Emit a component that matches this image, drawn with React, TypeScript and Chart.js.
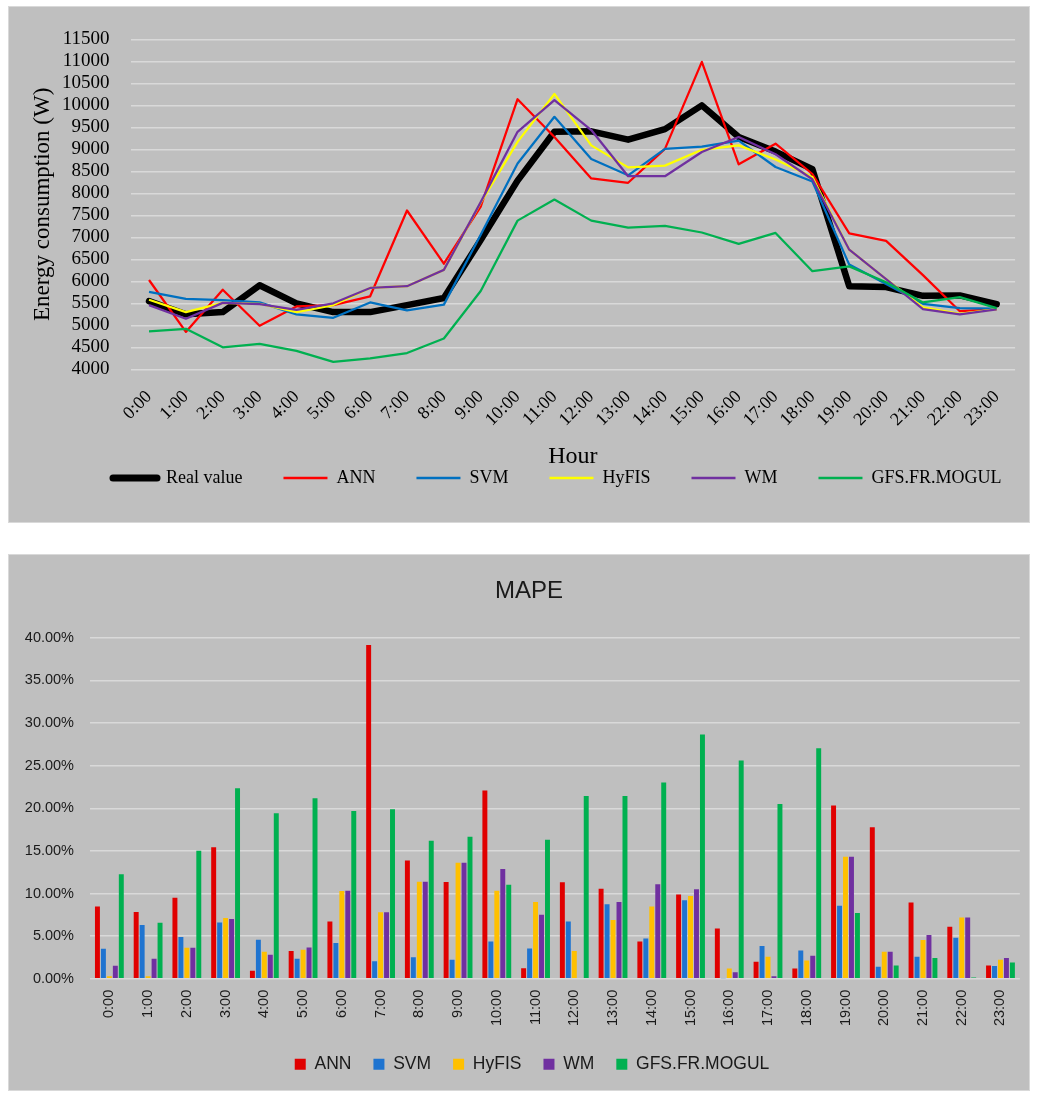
import React, { useEffect, useRef } from 'react';
import { Chart, registerables } from 'chart.js';

Chart.register(...registerables);

const hours = ['0:00', '1:00', '2:00', '3:00', '4:00', '5:00', '6:00', '7:00', '8:00', '9:00', '10:00', '11:00',
  '12:00', '13:00', '14:00', '15:00', '16:00', '17:00', '18:00', '19:00', '20:00', '21:00', '22:00', '23:00'];

// Energy consumption (W)
const realValue = [5550, 5250, 5300, 5910, 5500, 5300, 5300, 5460, 5620, 6940, 8290, 9400, 9410, 9220, 9460, 10000, 9280, 8950, 8550, 5890, 5870, 5670, 5680, 5480];
const annLine = [6030, 4850, 5810, 4990, 5430, 5460, 5660, 7610, 6400, 7700, 10140, 9280, 8340, 8240, 9010, 10990, 8660, 9130, 8440, 7090, 6920, 6140, 5320, 5370];
const svmLine = [5760, 5600, 5570, 5520, 5250, 5170, 5520, 5340, 5470, 7060, 8680, 9740, 8780, 8410, 9010, 9060, 9200, 8600, 8270, 6380, 5940, 5490, 5390, 5380];
const hyfisLine = [5580, 5300, 5510, 5490, 5300, 5460, 5850, 5890, 6260, 7790, 9170, 10260, 9090, 8590, 8630, 8990, 9090, 8770, 8370, 6720, 6050, 5410, 5260, 5370];
const wmLine = [5460, 5150, 5510, 5480, 5350, 5500, 5850, 5890, 6260, 7800, 9400, 10120, 9440, 8390, 8390, 8940, 9280, 8890, 8320, 6720, 6050, 5370, 5250, 5360];
const gfsLine = [4860, 4920, 4500, 4580, 4420, 4170, 4250, 4370, 4700, 5780, 7380, 7860, 7380, 7220, 7260, 7110, 6850, 7100, 6230, 6340, 5980, 5520, 5640, 5390];

// MAPE (%)
const mapeAnn = [8.49, 7.83, 9.51, 15.42, 0.94, 3.25, 6.73, 39.14, 13.86, 11.35, 22.07, 1.25, 11.31, 10.57, 4.38, 9.90, 5.91, 2.0, 1.21, 20.31, 17.77, 8.96, 6.11, 1.57];
const mapeSvm = [3.52, 6.30, 4.89, 6.61, 4.58, 2.35, 4.19, 2.07, 2.54, 2.23, 4.38, 3.56, 6.73, 8.73, 4.74, 9.20, 0.05, 3.84, 3.33, 8.57, 1.41, 2.58, 4.81, 1.49];
const mapeHyfis = [0.31, 0.31, 3.64, 7.12, 3.17, 3.41, 10.29, 7.79, 11.39, 13.62, 10.33, 9.0, 3.25, 6.89, 8.49, 9.71, 1.21, 2.58, 2.15, 14.32, 3.17, 4.54, 7.20, 2.23];
const mapeWm = [1.53, 2.35, 3.64, 7.0, 2.82, 3.68, 10.33, 7.79, 11.39, 13.62, 12.88, 7.51, 0, 9.0, 11.08, 10.49, 0.78, 0.31, 2.70, 14.32, 3.17, 5.13, 7.20, 2.43];
const mapeGfs = [12.25, 6.58, 15.03, 22.35, 19.41, 21.17, 19.69, 19.88, 16.2, 16.67, 11.04, 16.32, 21.45, 21.45, 23.01, 28.65, 25.6, 20.5, 27.05, 7.71, 1.57, 2.43, 0.16, 1.92];

const SERIF = '"Liberation Serif", "DejaVu Serif", serif';
const SANS = '"Liberation Sans", Arial, sans-serif';

const legendShift = {
  id: 'legendShift',
  afterLayout(chart: any) {
    const lg = chart.legend;
    if (!lg || !chart.chartArea) return;
    const pad = lg.options.labels.padding;
    const firstX = chart.chartArea.left - 17.6;
    const centerY = chart.chartArea.bottom + 108.7;
    lg.left = firstX - pad;
    lg.right = chart.width + 400;
    lg.top = centerY - pad - 9;
    lg.bottom = lg.top + pad + 40;
  },
};

const barShift = {
  id: 'barShift',
  afterLayout(chart: any) {
    const t = chart.titleBlock;
    if (t) { t.left += 13; t.right += 13; }
    const lg = chart.legend;
    if (lg) { lg.left += 16; lg.right += 16; }
  },
};

export default function App() {
  const lineRef = useRef<HTMLCanvasElement>(null);
  const barRef = useRef<HTMLCanvasElement>(null);

  useEffect(() => {
    const lineChart = new Chart(lineRef.current as HTMLCanvasElement, {
      type: 'line',
      data: {
        labels: hours,
        datasets: [
          { label: 'Real value', data: realValue, borderColor: '#000000', backgroundColor: '#000000', borderWidth: 6.5, order: 6, borderCapStyle: 'round' },
          { label: 'ANN', data: annLine, borderColor: '#ff0000', backgroundColor: '#ff0000', borderWidth: 2.25, order: 5 },
          { label: 'SVM', data: svmLine, borderColor: '#0070c0', backgroundColor: '#0070c0', borderWidth: 2.25, order: 4 },
          { label: 'HyFIS', data: hyfisLine, borderColor: '#ffff00', backgroundColor: '#ffff00', borderWidth: 2.25, order: 3 },
          { label: 'WM', data: wmLine, borderColor: '#7030a0', backgroundColor: '#7030a0', borderWidth: 2.25, order: 2 },
          { label: 'GFS.FR.MOGUL', data: gfsLine, borderColor: '#00b050', backgroundColor: '#00b050', borderWidth: 2.25, order: 1 },
        ] as any,
      },
      options: {
        responsive: false,
        animation: false,
        elements: { point: { radius: 0 }, line: { tension: 0, borderJoinStyle: 'round' } },
        layout: { padding: { left: 0, right: 3, top: 15, bottom: 0 } },
        plugins: {
          tooltip: { enabled: false },
          legend: {
            position: 'bottom',
            align: 'start',
            maxHeight: 30,
            labels: {
              usePointStyle: true,
              pointStyleWidth: 44,
              padding: 41,
              color: '#000000',
              font: { family: SERIF, size: 18 },
              generateLabels: (chart: any) =>
                chart.data.datasets.map((ds: any, i: number) => ({
                  text: ds.label,
                  fillStyle: ds.borderColor,
                  strokeStyle: ds.borderColor,
                  lineWidth: i === 0 ? 7 : 2.5,
                  lineCap: i === 0 ? 'round' : 'butt',
                  pointStyle: 'line',
                  hidden: false,
                  datasetIndex: i,
                  fontColor: '#000000',
                })),
            },
          },
        },
        scales: {
          x: {
            offset: true,
            grid: { display: false, drawTicks: false },
            border: { display: false },
            ticks: { minRotation: 45, maxRotation: 45, autoSkip: false, padding: 17, color: '#000000', font: { family: SERIF, size: 18 } },
            title: { display: true, text: 'Hour', color: '#000000', font: { family: SERIF, size: 24 }, padding: { top: 0, bottom: 21 } },
            afterFit: (s: any) => { s.height = 122.7; },
          },
          y: {
            min: 4000,
            max: 11500,
            grid: { color: '#d9d9d9', lineWidth: 1.5, drawTicks: false },
            border: { display: false },
            ticks: { stepSize: 500, autoSkip: false, padding: 21, color: '#000000', font: { family: SERIF, size: 19 }, callback: (v: any) => String(v) },
            title: { display: true, text: 'Energy consumption (W)', color: '#000000', font: { family: SERIF, size: 23 }, padding: { top: 20, bottom: 0 } },
            afterFit: (s: any) => { s.width = 121.6; },
          },
        },
      } as any,
      plugins: [legendShift],
    });

    const barChart = new Chart(barRef.current as HTMLCanvasElement, {
      type: 'bar',
      data: {
        labels: hours,
        datasets: [
          { label: 'ANN', data: mapeAnn, backgroundColor: '#e00000', borderWidth: 0 },
          { label: 'SVM', data: mapeSvm, backgroundColor: '#1f74d0', borderWidth: 0 },
          { label: 'HyFIS', data: mapeHyfis, backgroundColor: '#ffc000', borderWidth: 0 },
          { label: 'WM', data: mapeWm, backgroundColor: '#7030a0', borderWidth: 0 },
          { label: 'GFS.FR.MOGUL', data: mapeGfs, backgroundColor: '#00b050', borderWidth: 0 },
        ],
      },
      options: {
        responsive: false,
        animation: false,
        layout: { padding: { left: 0, right: 6, top: 0, bottom: 7 } },
        datasets: { bar: { categoryPercentage: 0.77, barPercentage: 0.83 } },
        plugins: {
          tooltip: { enabled: false },
          title: {
            display: true,
            text: 'MAPE',
            color: '#1a1a1a',
            font: { family: SANS, size: 24, weight: 'normal' },
            padding: { top: 21.6, bottom: 32.3 },
          },
          legend: {
            position: 'bottom',
            labels: { boxWidth: 11, boxHeight: 11, padding: 22, color: '#1a1a1a', font: { family: SANS, size: 17.5 } },
          },
        },
        scales: {
          x: {
            grid: { display: false, drawTicks: false },
            border: { display: false },
            ticks: { minRotation: 90, maxRotation: 90, autoSkip: false, padding: 11, color: '#1a1a1a', font: { family: SANS, size: 14.5 } },
            afterFit: (s: any) => { s.height = 54.7; },
          },
          y: {
            min: 0,
            max: 40,
            grid: { color: '#d9d9d9', lineWidth: 1.5, drawTicks: false },
            border: { display: false },
            ticks: { stepSize: 5, autoSkip: false, padding: 16, color: '#1a1a1a', font: { family: SANS, size: 14.5 }, callback: (v: any) => Number(v).toFixed(2) + '%' },
            afterFit: (s: any) => { s.width = 81; },
          },
        },
      } as any,
      plugins: [barShift],
    });

    return () => {
      lineChart.destroy();
      barChart.destroy();
    };
  }, []);

  return (
    <div style={{ position: 'absolute', left: 0, top: 0, width: 1040, height: 1092, background: '#ffffff' }}>
      <div style={{ position: 'absolute', left: 8, top: 6, width: 1020, height: 515, background: '#bfbfbf', border: '1px solid #d9d9d9' }}>
        <canvas ref={lineRef} width={1020} height={515} style={{ display: 'block', width: 1020, height: 515 }} />
      </div>
      <div style={{ position: 'absolute', left: 8, top: 554, width: 1020, height: 535, background: '#bfbfbf', border: '1px solid #d9d9d9' }}>
        <canvas ref={barRef} width={1020} height={535} style={{ display: 'block', width: 1020, height: 535 }} />
      </div>
    </div>
  );
}
